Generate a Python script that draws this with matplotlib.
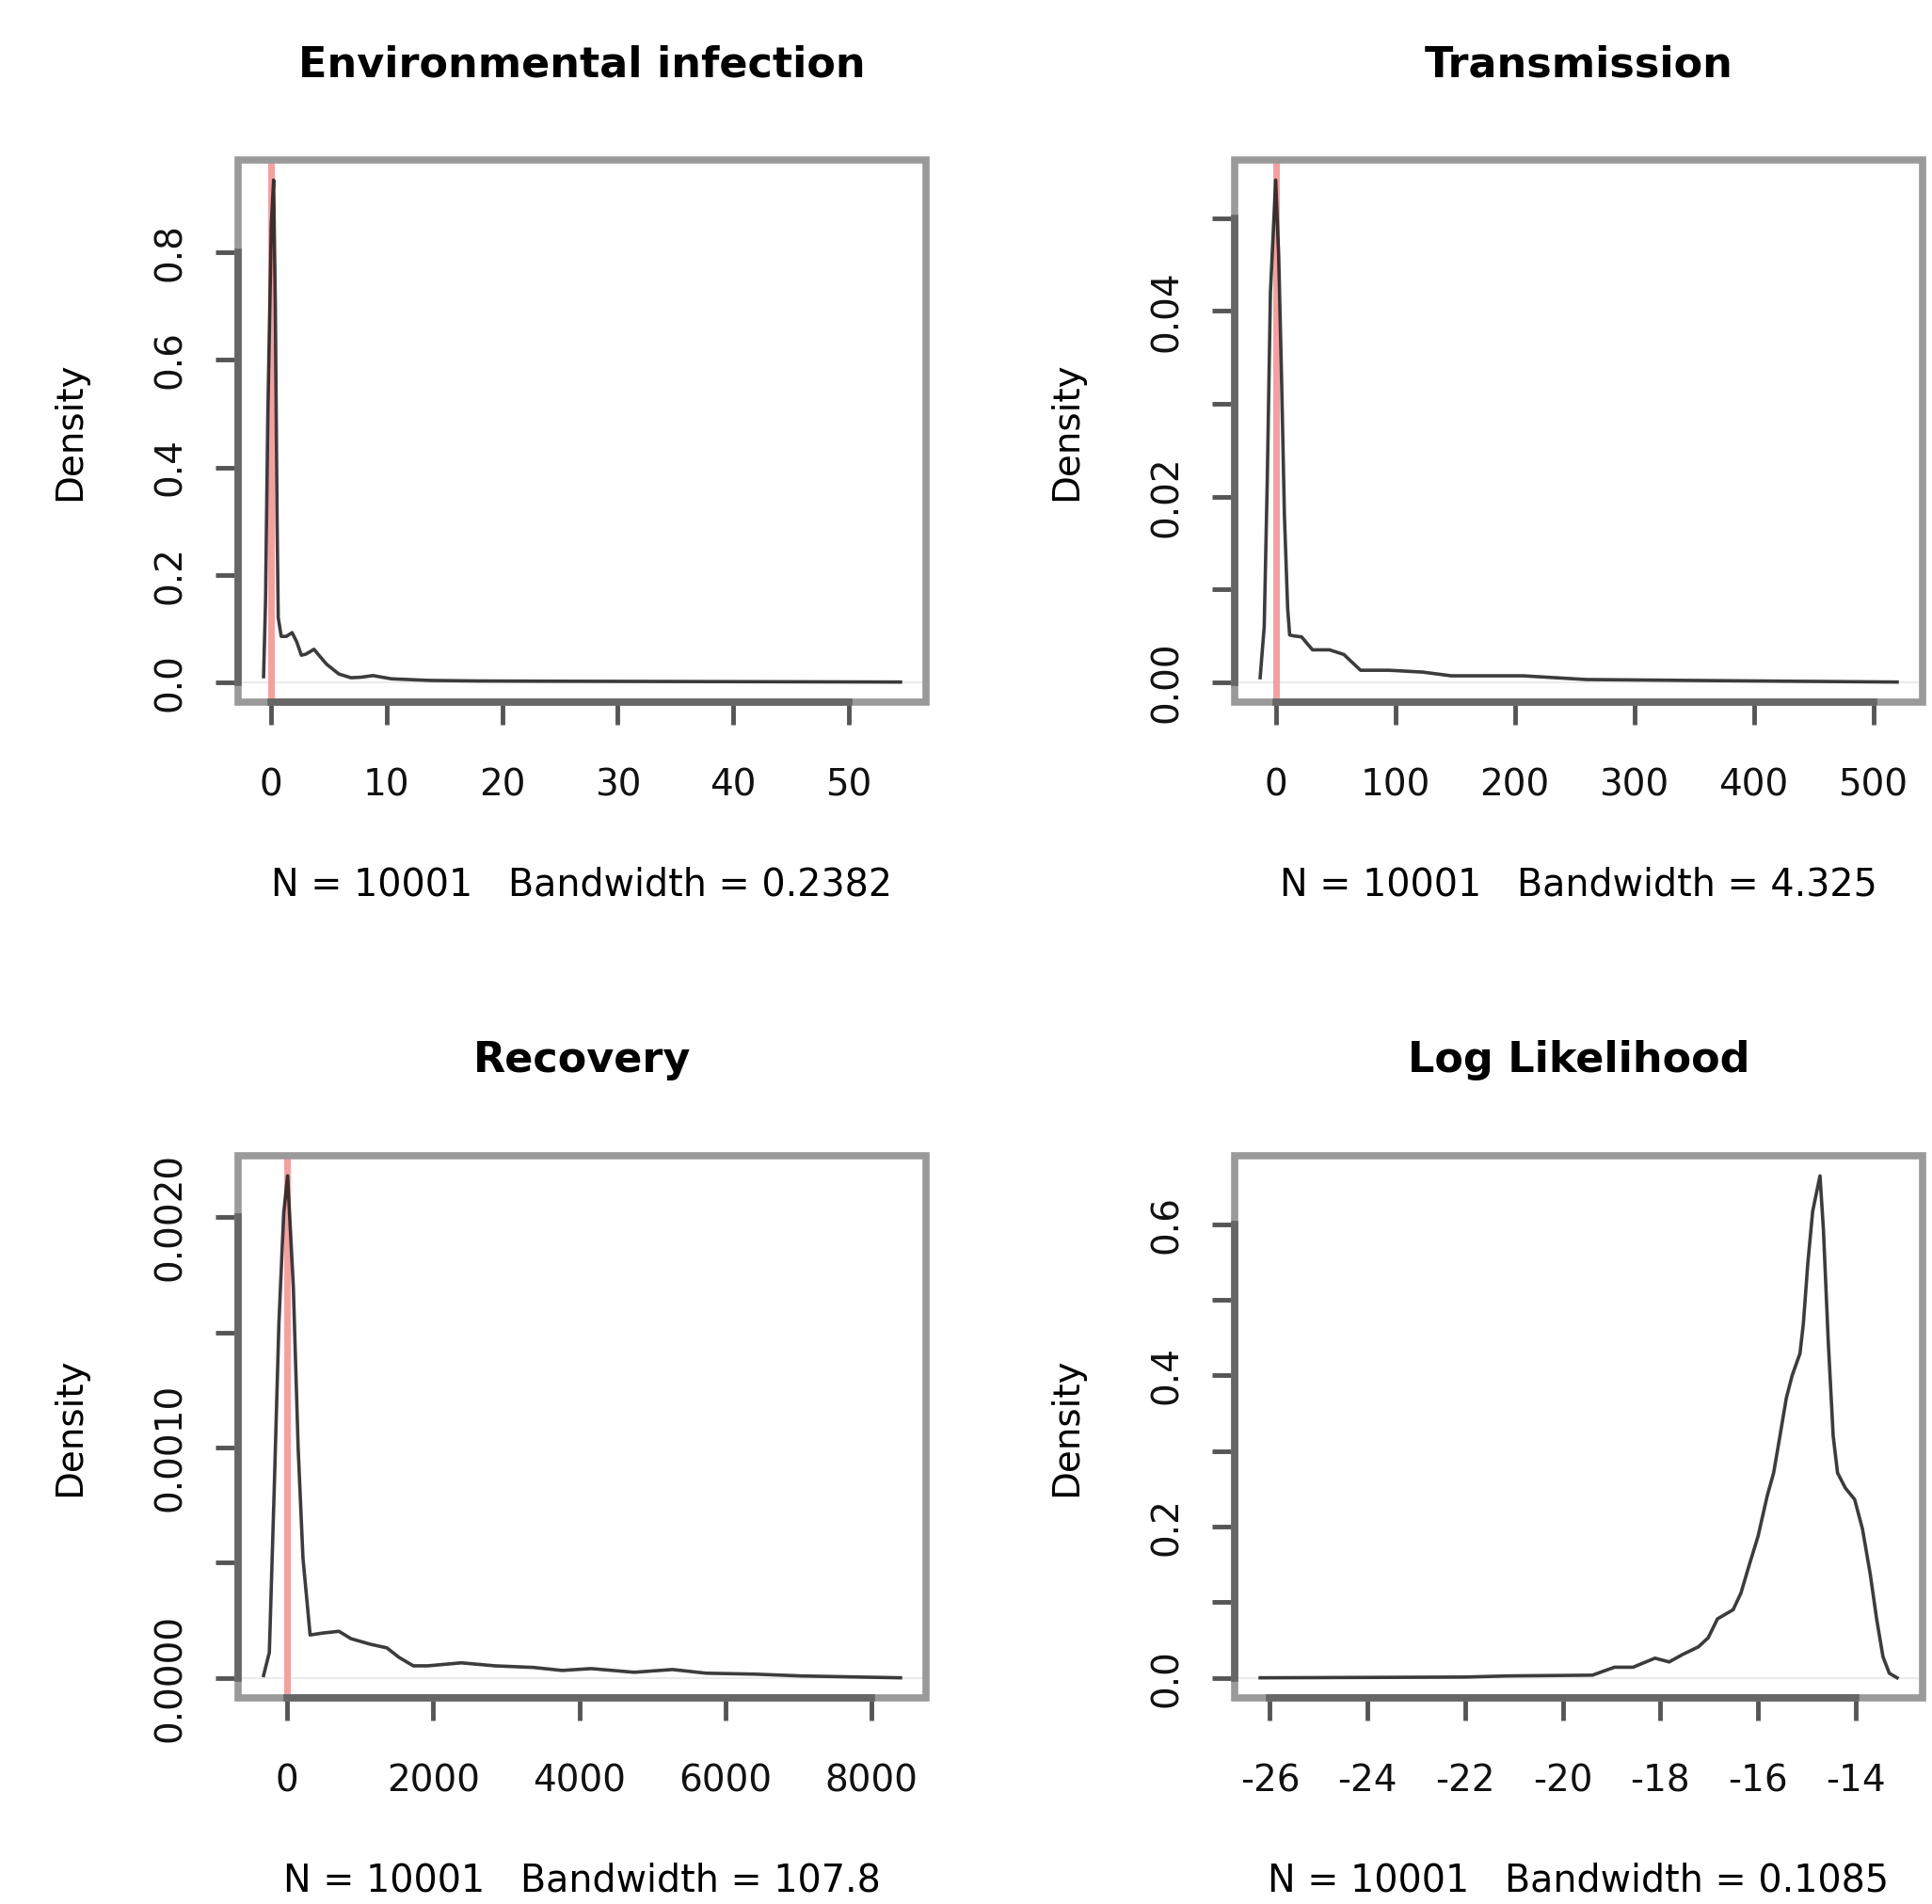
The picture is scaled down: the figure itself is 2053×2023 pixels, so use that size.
import matplotlib
matplotlib.use("Agg")
import matplotlib.pyplot as plt
from matplotlib.patches import Rectangle

plt.rcParams['font.family'] = ['DejaVu Sans']
plt.rcParams['axes.unicode_minus'] = False

# density curves
env_x = [-0.67, -0.5, -0.3, 0.0, 0.2, 0.35, 0.5, 0.6, 0.86, 1.3, 1.8, 2.2, 2.6, 3.0, 3.7,
         4.2, 4.8, 5.85, 6.9, 7.8, 8.8, 10.4, 13.7, 18, 25, 35, 45, 54.5]
env_y = [0.01, 0.15, 0.5, 0.85, 0.935, 0.7, 0.3, 0.12, 0.085, 0.085, 0.092, 0.075, 0.05, 0.052, 0.061,
         0.048, 0.033, 0.015, 0.008, 0.009, 0.012, 0.006, 0.003, 0.002, 0.0015, 0.001, 0.0005, 0.0]

trans_x = [-13, -9.6, -7, -4.4, 0, 2.5, 4.7, 7.3, 10, 11.7, 15, 21.6, 30.8, 45, 57, 71, 95,
           123, 147, 207, 260, 350, 450, 520]
trans_y = [0.0005, 0.006, 0.022, 0.042, 0.0541, 0.046, 0.034, 0.018, 0.008, 0.0051, 0.005, 0.0049,
           0.0035, 0.0035, 0.003, 0.0013, 0.0013, 0.0011, 0.0007, 0.0007, 0.0003, 0.0002, 0.0001, 0.00003]

rec_x = [-322, -243, -177, -112, -46, 7, 85, 151, 217, 315, 480, 709, 874, 1136, 1366, 1530,
         1727, 1924, 2384, 2844, 3370, 3764, 4158, 4749, 5274, 5734, 6391, 7048, 8394]
rec_y = [0.00001, 0.00011, 0.00081, 0.00154, 0.00202, 0.00218, 0.0017, 0.001, 0.00052, 0.000186,
         0.000194, 0.000202, 0.00017, 0.000146, 0.00013, 0.000089, 0.000052, 0.000052, 0.000065,
         0.000052, 0.000045, 0.000032, 0.00004, 0.000024, 0.000036, 0.00002, 0.000016, 0.000008, 0.0]

ll_x = [-26.2, -24, -22, -21.12, -20.22, -19.39, -19.2, -18.94, -18.56, -18.11, -17.82, -17.54,
        -17.22, -17.02, -16.83, -16.51, -16.35, -16.19, -16.0, -15.81, -15.68, -15.55, -15.42,
        -15.30, -15.14, -15.07, -14.98, -14.88, -14.73, -14.66, -14.56, -14.46, -14.37, -14.21,
        -14.02, -13.86, -13.70, -13.57, -13.44, -13.31, -13.15]
ll_y = [0.0, 0.0005, 0.001, 0.0025, 0.003, 0.0035, 0.008, 0.014, 0.014, 0.026, 0.021, 0.031,
        0.041, 0.053, 0.078, 0.09, 0.112, 0.147, 0.187, 0.241, 0.271, 0.32, 0.37,
        0.40, 0.429, 0.469, 0.548, 0.617, 0.664, 0.593, 0.444, 0.32, 0.271, 0.251,
        0.236, 0.197, 0.137, 0.078, 0.028, 0.006, 0.0]

titles = ["Environmental infection", "Transmission", "Recovery", "Log Likelihood"]
bandwidths = ["0.2382", "4.325", "107.8", "0.1085"]
n_samples = 10001
true_values = [0, 0, 0, None]

xticks = [[0, 10, 20, 30, 40, 50],
          [0, 100, 200, 300, 400, 500],
          [0, 2000, 4000, 6000, 8000],
          [-26, -24, -22, -20, -18, -16, -14]]
yticks = [[0.0, 0.2, 0.4, 0.6, 0.8],
          [0.0, 0.01, 0.02, 0.03, 0.04, 0.05],
          [0.0, 0.0005, 0.0010, 0.0015, 0.0020],
          [0.0, 0.1, 0.2, 0.3, 0.4, 0.5, 0.6]]
ylabels = [["0.0", "0.2", "0.4", "0.6", "0.8"],
           ["0.00", "", "0.02", "", "0.04", ""],
           ["0.0000", "", "0.0010", "", "0.0020"],
           ["0.0", "", "0.2", "", "0.4", "", "0.6"]]

curves = [(env_x, env_y), (trans_x, trans_y), (rec_x, rec_y), (ll_x, ll_y)]

fig = plt.figure(figsize=(20.53, 20.23), dpi=100)
W, H = 2053, 2023
lefts = [253, 1312]
tops = [170, 1228]
aw, ah = 731, 576

tick_col = '#555555'
for i in range(4):
    r, c = divmod(i, 2)
    ax = fig.add_axes([lefts[c] / W, 1 - (tops[r] + ah) / H, aw / W, ah / H])
    x, y = curves[i]
    # R style 4% padding
    xr = max(x) - min(x)
    yr = max(y) - min(y)
    ax.set_xlim(min(x) - 0.04 * xr, max(x) + 0.04 * xr)
    ax.set_ylim(min(y) - 0.04 * yr, max(y) + 0.04 * yr)

    ax.axhline(0, color='#ebebeb', lw=1.5, zorder=1)
    if true_values[i] is not None:
        ax.axvline(true_values[i], color='#f4a0a0', lw=5, zorder=2)
    ax.plot(x, y, color='#1a1a1a', lw=2.6, zorder=3, alpha=0.85)

    ax.set_xticks(xticks[i])
    ax.set_xticklabels([str(t) for t in xticks[i]])
    ax.set_yticks(yticks[i])
    ax.set_yticklabels(ylabels[i], rotation=90, va='center')
    ax.tick_params(axis='both', direction='out', length=17, width=3.5, color=tick_col,
                   labelsize=28, labelcolor='#111111')
    ax.tick_params(axis='x', pad=33)
    ax.tick_params(axis='y', pad=21)

    for s in ['top', 'right']:
        ax.spines[s].set_visible(False)
    ax.add_patch(Rectangle((0, 0), 1, 1, transform=ax.transAxes, fill=False,
                           edgecolor='#9a9a9a', lw=5.5, clip_on=False, zorder=4))
    ax.spines['left'].set_bounds(yticks[i][0], yticks[i][-1])
    ax.spines['bottom'].set_bounds(xticks[i][0], xticks[i][-1])
    for s in ['left', 'bottom']:
        ax.spines[s].set_color('#666666')
        ax.spines[s].set_linewidth(5.5)
        ax.spines[s].set_zorder(5)

    ax.set_title(titles[i], fontsize=32, fontweight='bold', pad=64)
    ax.set_xlabel("N = %d   Bandwidth = %s" % (n_samples, bandwidths[i]), fontsize=28.5, labelpad=48)
    ax.set_ylabel("Density", fontsize=28, labelpad=50)

fig.savefig("out.png", dpi=100, facecolor='white')
